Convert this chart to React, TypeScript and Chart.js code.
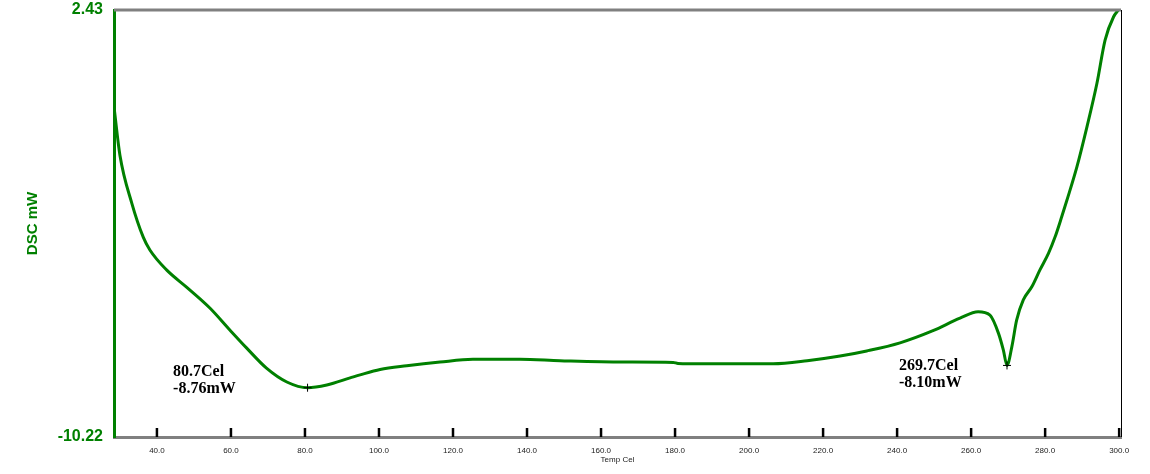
import React, { useEffect, useRef } from "react";
import { Chart, registerables } from "chart.js";

Chart.register(...registerables);

const temps = [
  28.5, 30.0, 33.2, 36.3, 38.1, 42.6, 48.0, 54.3, 59.7, 64.2, 69.6, 75.1, 80.7,
  85.9, 92.2, 94.9, 100.3, 107.5, 116.5, 125.4, 138.1, 148.9, 165.9, 179.5,
  180.8, 187.6, 206.5, 215.7, 224.6, 231.8, 240.8, 249.7, 257.0, 261.9, 265.1,
  267.4, 268.7, 269.7, 271.0, 272.3, 274.1, 276.4, 278.6, 280.9, 282.7, 284.5,
  285.9, 288.6, 291.3, 294.0, 296.2, 298.5, 299.8,
];
const dsc = [
  -0.53, -1.87, -3.29, -4.3, -4.68, -5.27, -5.78, -6.4, -7.05, -7.58, -8.18,
  -8.59, -8.76, -8.68, -8.47, -8.38, -8.22, -8.11, -8.0, -7.92, -7.92, -7.96,
  -8.0, -8.01, -8.04, -8.05, -8.05, -7.96, -7.82, -7.67, -7.43, -7.07, -6.7,
  -6.51, -6.61, -7.15, -7.64, -8.1, -7.55, -6.76, -6.16, -5.77, -5.27, -4.78,
  -4.29, -3.69, -3.2, -2.21, -1.03, 0.26, 1.54, 2.23, 2.43,
];
const xTickValues = [40, 60, 80, 100, 120, 140, 160, 180, 200, 220, 240, 260, 280, 300];
const yTickValues = [-10.22, 2.43];
const xMin = 28.4;
const xMax = 300.5;
const peakTemps = [80.7, 269.7];
const peakValues = [-8.76, -8.1];
const peakTexts = [
  ["80.7Cel", "-8.76mW"],
  ["269.7Cel", "-8.10mW"],
];

const GREEN = "#008000";

const framePlugin = {
  id: "dscFrame",
  afterDatasetsDraw(chart: any, _args: any, opts: any) {
    const { ctx, chartArea, scales } = chart;
    const xs = scales.x;
    const ys = scales.y;
    ctx.save();
    ctx.strokeStyle = "#808080";
    ctx.lineWidth = 3;
    ctx.beginPath();
    ctx.moveTo(chartArea.left, chartArea.top);
    ctx.lineTo(chartArea.right, chartArea.top);
    ctx.stroke();
    ctx.strokeStyle = "#000";
    ctx.lineWidth = 1;
    ctx.beginPath();
    ctx.moveTo(Math.round(chartArea.right) + 0.5, chartArea.top);
    ctx.lineTo(Math.round(chartArea.right) + 0.5, chartArea.bottom);
    ctx.stroke();
    ctx.strokeStyle = "#000";
    ctx.lineWidth = 2.5;
    for (const v of xTickValues) {
      const px = xs.getPixelForValue(v);
      ctx.beginPath();
      ctx.moveTo(px, chartArea.bottom - 9);
      ctx.lineTo(px, chartArea.bottom);
      ctx.stroke();
    }
    const offs = opts.offsets || [];
    for (let i = 0; i < peakTemps.length; i++) {
      const px = xs.getPixelForValue(peakTemps[i]);
      const py = ys.getPixelForValue(peakValues[i]);
      ctx.strokeStyle = "#000";
      ctx.lineWidth = 1;
      ctx.beginPath();
      ctx.moveTo(px - 4, py);
      ctx.lineTo(px + 4, py);
      ctx.moveTo(px, py - 4);
      ctx.lineTo(px, py + 4);
      ctx.stroke();
      const o = offs[i] || [0, 0];
      ctx.fillStyle = "#000";
      ctx.font = "bold 16px 'Liberation Serif', 'Times New Roman', serif";
      ctx.textAlign = "left";
      ctx.textBaseline = "alphabetic";
      peakTexts[i].forEach((t, j) => {
        ctx.fillText(t, px + o[0], py + o[1] + j * 17);
      });
    }
    ctx.restore();
  },
};

export default function App() {
  const canvasRef = useRef<HTMLCanvasElement | null>(null);

  useEffect(() => {
    const canvas = canvasRef.current;
    if (!canvas) return;
    const chart = new Chart(canvas, {
      type: "line",
      data: {
        datasets: [
          {
            data: temps.map((t, i) => ({ x: t, y: dsc[i] })),
            borderColor: GREEN,
            borderWidth: 3,
            pointRadius: 0,
            fill: false,
            cubicInterpolationMode: "monotone",
          },
        ],
      },
      options: {
        animation: false,
        responsive: false,
        maintainAspectRatio: false,
        layout: { padding: { top: 10, right: 29, left: 0, bottom: 0 } },
        plugins: {
          legend: { display: false },
          tooltip: { enabled: false },
          dscFrame: { offsets: [[-134.5, -11.5], [-108, 4.6]] },
        } as any,
        scales: {
          x: {
            type: "linear",
            min: xMin,
            max: xMax,
            afterBuildTicks: (s: any) => {
              s.ticks = xTickValues.map((v) => ({ value: v }));
            },
            afterFit: (s: any) => {
              s.height = 37;
              s.paddingLeft = 0;
              s.paddingRight = 0;
            },
            grid: { display: false, drawTicks: false },
            border: { display: true, color: "#808080", width: 3 },
            ticks: {
              autoSkip: false,
              maxRotation: 0,
              padding: 9,
              color: "#222",
              font: { family: "Arial, 'Liberation Sans', sans-serif", size: 8 },
              callback: (v: any) => Number(v).toFixed(1),
            },
            title: {
              display: true,
              text: "Temp Cel",
              color: "#222",
              font: { family: "Arial, 'Liberation Sans', sans-serif", size: 8 },
              padding: { top: 0, bottom: 9 },
            },
          },
          y: {
            type: "linear",
            min: yTickValues[0],
            max: yTickValues[1],
            afterBuildTicks: (s: any) => {
              s.ticks = yTickValues.map((v) => ({ value: v }));
            },
            afterFit: (s: any) => {
              s.width = 114;
              s.paddingTop = 0;
              s.paddingBottom = 0;
            },
            grid: { display: false, drawTicks: false },
            border: { display: true, color: GREEN, width: 3 },
            ticks: {
              padding: 11,
              color: GREEN,
              font: { family: "Arial, 'Liberation Sans', sans-serif", size: 16, weight: "bold" },
              callback: (v: any) => Number(v).toFixed(2),
            },
            title: {
              display: true,
              text: "DSC mW",
              color: GREEN,
              font: { family: "Arial, 'Liberation Sans', sans-serif", size: 15, weight: "bold" },
              padding: { top: 24, bottom: 0 },
            },
          },
        },
      },
      plugins: [framePlugin],
    } as any);
    return () => chart.destroy();
  }, []);

  return (
    <div style={{ position: "absolute", left: 0, top: 0, width: 1150, height: 474, background: "#fff" }}>
      <canvas ref={canvasRef} width={1150} height={474} style={{ display: "block", width: 1150, height: 474 }} />
    </div>
  );
}
